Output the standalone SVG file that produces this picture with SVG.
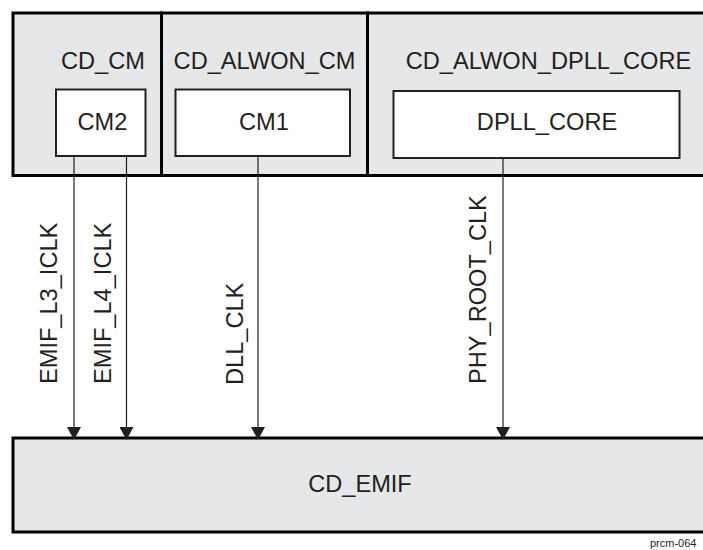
<svg xmlns="http://www.w3.org/2000/svg" width="703" height="550" viewBox="0 0 703 550">
<defs>
<style>
.dom{fill:#e6e7e8;stroke:#000;stroke-width:3}
.mod{fill:#fff;stroke:#231f20;stroke-width:2}
.t{font-family:"Liberation Sans",Arial,sans-serif;font-size:23.6px;fill:#231f20}
.c{text-anchor:middle}
.w{stroke:#231f20;stroke-width:1.2;fill:none}
</style>
<marker id="ah" markerUnits="userSpaceOnUse" markerWidth="13" markerHeight="14" viewBox="0 0 13 14" refX="12" refY="7" orient="auto">
<path d="M0,0 L13,7 L0,14 Z" fill="#231f20"/>
</marker>
</defs>
<rect width="703" height="550" fill="#fff"/>
<g id="cd_cm">
<rect class="dom" x="13" y="13" width="148.5" height="162.5"/>
<text class="t c" x="103" y="69">CD_CM</text>
</g>
<g id="cd_alwon_cm">
<rect class="dom" x="161.5" y="13" width="206" height="162.5"/>
<text class="t c" x="264.5" y="69">CD_ALWON_CM</text>
</g>
<g id="cd_alwon_dpll_core">
<rect class="dom" x="367.5" y="13" width="340" height="162.5"/>
<text class="t c" x="548.5" y="69">CD_ALWON_DPLL_CORE</text>
</g>
<g id="cm2">
<rect class="mod" x="56" y="89.5" width="89.5" height="66.5"/>
<text class="t c" x="102.5" y="130">CM2</text>
</g>
<g id="cm1">
<rect class="mod" x="175.5" y="89.5" width="174.5" height="66.5"/>
<text class="t c" x="264" y="130">CM1</text>
</g>
<g id="dpll_core">
<rect class="mod" x="393.5" y="91" width="286" height="67"/>
<text class="t c" x="547" y="130">DPLL_CORE</text>
</g>
<g id="cd_emif">
<rect class="dom" x="13" y="438" width="700" height="94"/>
<text class="t c" x="360" y="492">CD_EMIF</text>
</g>
<g id="connectors">
<line class="w" x1="74" y1="156" x2="74" y2="439" marker-end="url(#ah)"/>
<line class="w" x1="126.5" y1="156" x2="126.5" y2="439" marker-end="url(#ah)"/>
<line class="w" x1="258" y1="156" x2="258" y2="439" marker-end="url(#ah)"/>
<line class="w" x1="503" y1="158" x2="503" y2="439" marker-end="url(#ah)"/>
<text class="t" transform="translate(57,384) rotate(-90)">EMIF_L3_ICLK</text>
<text class="t" transform="translate(111,384) rotate(-90)">EMIF_L4_ICLK</text>
<text class="t" transform="translate(243,385) rotate(-90)">DLL_CLK</text>
<text class="t" transform="translate(486,384) rotate(-90)">PHY_ROOT_CLK</text>
</g>
<text x="650" y="546.5" font-family="Liberation Sans,Arial,sans-serif" font-size="11" fill="#231f20">prcm-064</text>
</svg>
